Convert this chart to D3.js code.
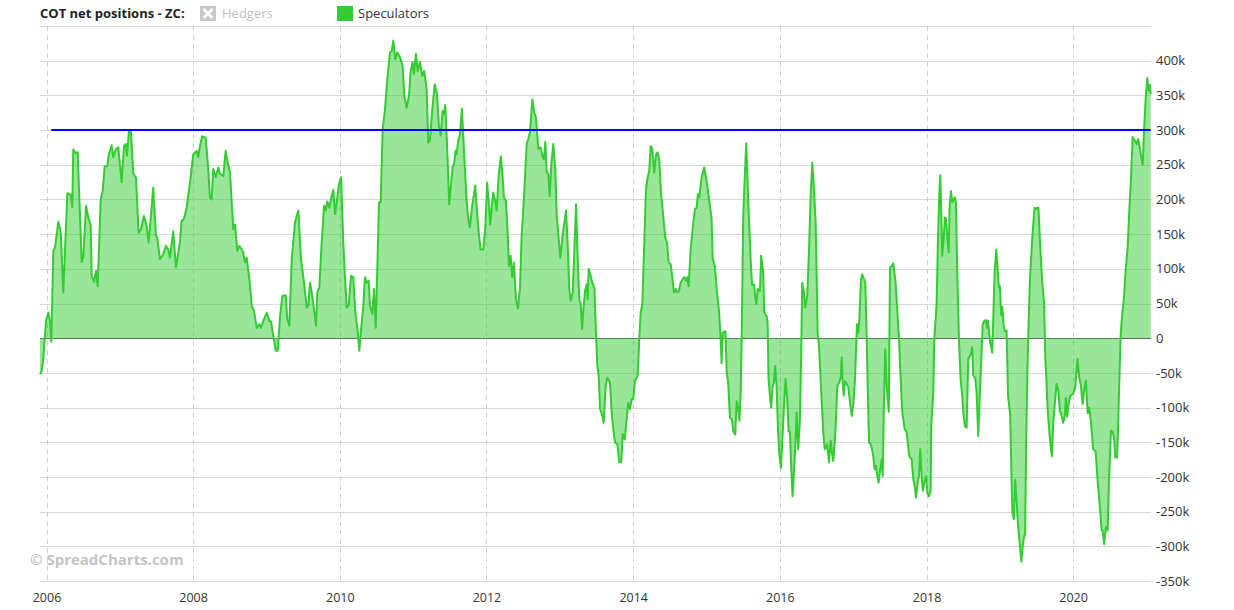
<!DOCTYPE html>
<html><head><meta charset="utf-8">
<script src="https://cdn.jsdelivr.net/npm/d3@7"></script>
<style>
html,body{margin:0;padding:0;background:#fff;}
svg{display:block;font-family:"Open Sans",sans-serif;}
</style></head><body>
<svg id="chart" width="1234" height="610"></svg>
<script>
// decimal-year dates of the weekly COT readings
const dates = [2005.911,2005.932,2005.956,2005.993,2006.025,2006.048,2006.065,2006.093,2006.116,2006.161,2006.194,2006.229,2006.284,2006.330,2006.352,2006.365,2006.398,2006.425,2006.480,2006.502,2006.539,2006.570,2006.603,2006.616,2006.648,2006.675,2006.698,2006.739,2006.766,2006.794,2006.829,2006.848,2006.889,2006.911,2006.948,2006.979,2007.025,2007.057,2007.084,2007.098,2007.125,2007.152,2007.184,2007.220,2007.257,2007.289,2007.329,2007.366,2007.394,2007.421,2007.456,2007.493,2007.511,2007.548,2007.593,2007.629,2007.661,2007.684,2007.729,2007.766,2007.820,2007.843,2007.875,2007.912,2007.957,2008.002,2008.048,2008.070,2008.093,2008.124,2008.171,2008.206,2008.229,2008.253,2008.274,2008.307,2008.343,2008.366,2008.411,2008.443,2008.471,2008.502,2008.547,2008.570,2008.602,2008.629,2008.675,2008.707,2008.730,2008.765,2008.798,2008.829,2008.866,2008.902,2008.925,2008.956,2009.002,2009.038,2009.061,2009.092,2009.125,2009.152,2009.184,2009.215,2009.261,2009.283,2009.311,2009.343,2009.388,2009.433,2009.470,2009.511,2009.548,2009.570,2009.593,2009.624,2009.675,2009.692,2009.720,2009.752,2009.784,2009.807,2009.829,2009.856,2009.889,2009.911,2009.934,2009.957,2009.988,2010.016,2010.047,2010.070,2010.093,2010.121,2010.152,2010.183,2010.211,2010.243,2010.265,2010.288,2010.320,2010.343,2010.366,2010.393,2010.411,2010.442,2010.466,2010.489,2010.511,2010.534,2010.557,2010.584,2010.616,2010.647,2010.684,2010.707,2010.729,2010.756,2010.783,2010.820,2010.857,2010.879,2010.911,2010.943,2010.966,2010.993,2011.011,2011.038,2011.061,2011.093,2011.124,2011.151,2011.184,2011.206,2011.229,2011.263,2011.295,2011.325,2011.352,2011.375,2011.402,2011.420,2011.438,2011.465,2011.492,2011.511,2011.539,2011.556,2011.579,2011.593,2011.615,2011.638,2011.665,2011.697,2011.729,2011.751,2011.774,2011.806,2011.847,2011.870,2011.897,2011.920,2011.956,2011.983,2012.010,2012.038,2012.051,2012.074,2012.092,2012.119,2012.139,2012.166,2012.197,2012.220,2012.238,2012.265,2012.289,2012.306,2012.329,2012.351,2012.374,2012.402,2012.429,2012.456,2012.479,2012.511,2012.548,2012.569,2012.593,2012.624,2012.651,2012.674,2012.706,2012.738,2012.766,2012.783,2012.801,2012.820,2012.842,2012.861,2012.883,2012.910,2012.937,2012.957,2012.984,2013.006,2013.038,2013.083,2013.104,2013.128,2013.147,2013.175,2013.197,2013.220,2013.243,2013.265,2013.284,2013.302,2013.319,2013.342,2013.366,2013.379,2013.393,2013.420,2013.442,2013.472,2013.492,2013.510,2013.529,2013.547,2013.574,2013.597,2013.625,2013.646,2013.683,2013.706,2013.728,2013.751,2013.783,2013.810,2013.837,2013.856,2013.884,2013.911,2013.933,2013.956,2013.979,2014.001,2014.024,2014.061,2014.083,2014.102,2014.124,2014.147,2014.174,2014.197,2014.219,2014.238,2014.260,2014.287,2014.311,2014.334,2014.356,2014.379,2014.410,2014.437,2014.461,2014.484,2014.511,2014.533,2014.556,2014.579,2014.601,2014.624,2014.647,2014.675,2014.696,2014.720,2014.737,2014.756,2014.784,2014.811,2014.842,2014.866,2014.883,2014.901,2014.934,2014.968,2015.002,2015.036,2015.070,2015.084,2015.115,2015.146,2015.172,2015.193,2015.206,2015.220,2015.258,2015.275,2015.296,2015.320,2015.347,2015.365,2015.392,2015.412,2015.433,2015.449,2015.467,2015.483,2015.501,2015.521,2015.542,2015.569,2015.602,2015.622,2015.650,2015.663,2015.680,2015.699,2015.729,2015.746,2015.774,2015.787,2015.820,2015.834,2015.847,2015.865,2015.883,2015.902,2015.920,2015.937,2015.956,2015.974,2015.992,2016.015,2016.038,2016.060,2016.079,2016.101,2016.120,2016.138,2016.155,2016.174,2016.196,2016.215,2016.229,2016.251,2016.274,2016.292,2016.305,2016.329,2016.346,2016.374,2016.397,2016.420,2016.442,2016.465,2016.488,2016.502,2016.515,2016.533,2016.556,2016.574,2016.592,2016.611,2016.628,2016.646,2016.669,2016.693,2016.710,2016.728,2016.751,2016.769,2016.783,2016.810,2016.829,2016.843,2016.856,2016.870,2016.888,2016.911,2016.933,2016.956,2016.979,2017.001,2017.024,2017.038,2017.051,2017.069,2017.083,2017.106,2017.123,2017.147,2017.164,2017.183,2017.197,2017.215,2017.238,2017.256,2017.273,2017.293,2017.310,2017.328,2017.347,2017.365,2017.388,2017.402,2017.415,2017.436,2017.453,2017.470,2017.485,2017.501,2017.531,2017.546,2017.576,2017.601,2017.624,2017.647,2017.669,2017.702,2017.729,2017.764,2017.797,2017.819,2017.838,2017.856,2017.879,2017.897,2017.914,2017.933,2017.951,2017.969,2017.992,2018.010,2018.033,2018.056,2018.064,2018.092,2018.105,2018.124,2018.138,2018.156,2018.173,2018.187,2018.201,2018.214,2018.233,2018.251,2018.265,2018.282,2018.302,2018.315,2018.333,2018.351,2018.370,2018.387,2018.401,2018.419,2018.442,2018.465,2018.487,2018.501,2018.524,2018.547,2018.569,2018.592,2018.610,2018.623,2018.637,2018.664,2018.683,2018.705,2018.728,2018.746,2018.765,2018.787,2018.810,2018.824,2018.841,2018.865,2018.896,2018.910,2018.929,2018.951,2018.970,2018.987,2019.001,2019.019,2019.035,2019.051,2019.069,2019.092,2019.113,2019.141,2019.158,2019.171,2019.192,2019.210,2019.229,2019.246,2019.267,2019.294,2019.312,2019.328,2019.345,2019.360,2019.376,2019.392,2019.413,2019.440,2019.458,2019.473,2019.492,2019.512,2019.527,2019.550,2019.576,2019.604,2019.621,2019.635,2019.651,2019.672,2019.696,2019.710,2019.730,2019.754,2019.774,2019.799,2019.819,2019.842,2019.864,2019.887,2019.901,2019.919,2019.942,2019.962,2020.000,2020.028,2020.048,2020.060,2020.081,2020.105,2020.129,2020.150,2020.174,2020.197,2020.219,2020.242,2020.273,2020.306,2020.333,2020.365,2020.388,2020.401,2020.423,2020.446,2020.470,2020.487,2020.515,2020.538,2020.559,2020.573,2020.600,2020.624,2020.647,2020.665,2020.692,2020.715,2020.742,2020.764,2020.787,2020.810,2020.838,2020.865,2020.887,2020.910,2020.928,2020.947,2020.964,2020.988,2021.009,2021.029,2021.046,2021.056];

// Speculators net position, thousands of contracts
const speculators = [-52,-48,-30,25,37,23,-5,126,131,168,153,66,209,207,189,272,267,268,110,117,191,174,162,90,81,97,75,200,212,248,248,264,278,261,273,275,225,277,280,263,299,297,237,232,152,157,176,162,138,172,217,148,145,114,121,133,128,116,154,102,138,169,172,188,224,265,270,261,277,291,289,244,203,200,244,232,246,237,234,270,253,239,157,164,126,133,126,109,116,85,47,39,15,20,15,25,37,25,24,3,-18,-18,32,61,62,27,18,114,167,184,114,80,44,47,80,61,18,66,73,138,191,184,197,188,205,214,179,196,222,232,138,88,44,47,90,88,37,11,-18,11,47,88,80,83,47,35,71,15,100,196,196,301,330,373,412,414,429,402,412,405,393,349,332,349,385,398,381,410,385,398,378,385,359,282,285,332,366,352,306,292,328,323,336,273,193,215,248,249,270,265,285,292,331,263,200,172,160,191,220,184,150,128,128,157,224,188,164,191,210,198,184,234,262,234,203,198,152,104,119,88,109,56,43,71,148,203,280,287,297,344,325,318,273,275,261,258,283,239,237,205,251,280,244,176,143,116,150,184,140,70,54,66,128,193,114,54,51,13,39,68,78,56,100,90,80,71,6,-40,-54,-102,-110,-122,-69,-57,-64,-107,-131,-150,-153,-179,-179,-138,-146,-117,-93,-102,-88,-88,-62,-54,-1,37,49,124,215,232,241,277,273,239,265,268,256,210,176,145,138,109,107,88,66,71,66,68,80,85,88,83,88,75,128,157,186,188,208,203,232,246,226,200,172,115,103,63,38,-1,-36,8,10,-48,-64,-115,-117,-134,-139,-91,-102,-119,-78,22,176,229,281,200,114,77,77,61,49,71,68,119,95,37,32,23,-59,-83,-100,-69,-64,-40,-69,-126,-165,-187,-141,-93,-59,-88,-134,-136,-184,-228,-189,-146,-107,-160,-117,-21,80,66,44,61,124,205,253,215,167,90,8,-11,-59,-98,-136,-160,-158,-153,-179,-148,-165,-177,-146,-107,-69,-64,-57,-28,-64,-83,-62,-66,-71,-93,-112,-95,-59,-16,20,8,27,85,92,85,80,3,-69,-150,-153,-160,-170,-189,-184,-199,-208,-191,-175,-199,-112,-16,-64,-88,-106,102,105,108,82,40,-1,-59,-107,-131,-136,-170,-175,-203,-213,-230,-208,-199,-160,-199,-220,-208,-199,-223,-228,-220,-126,-78,-1,27,51,143,205,235,181,119,143,174,172,148,124,191,212,196,200,203,196,95,-1,-59,-83,-107,-127,-129,-30,-26,-21,-13,-54,-57,-78,-141,-78,-35,20,25,26,15,25,-4,-21,27,95,128,100,73,75,33,45,18,10,11,-85,-110,-195,-251,-261,-204,-236,-266,-292,-322,-300,-287,-282,-146,-49,20,90,140,167,188,186,188,188,135,85,50,-30,-59,-100,-130,-160,-170,-120,-90,-66,-76,-105,-111,-122,-112,-86,-113,-92,-83,-80,-72,-46,-30,-55,-68,-95,-76,-61,-108,-100,-120,-160,-163,-205,-245,-277,-277,-297,-272,-277,-210,-133,-135,-145,-172,-172,-80,4,31,59,98,131,183,228,290,285,280,287,273,260,250,297,347,375,357,365,352];

// horizontal reference level (thousands) and its span
const refLevel = [300, 300];
const refSpan = [2006.065, 2021.056];

const yTickValues = [-350,-300,-250,-200,-150,-100,-50,0,50,100,150,200,250,300,350,400,450];
const xTickYears = [2006,2008,2010,2012,2014,2016,2018,2020];
const xDomainYears = [2005.911, 2021.060];
const titleText = "COT net positions - ZC:";
const legendNames = ["Hedgers", "Speculators"];
const watermark = "\u00a9 SpreadCharts.com";

function decToDate(v) {
  const yr = Math.floor(v);
  const a = new Date(yr, 0, 1).getTime(), b = new Date(yr + 1, 0, 1).getTime();
  return new Date(a + (v - yr) * (b - a));
}

const svg = d3.select("#chart");
const L = 40, R = 1151, T = 26, B = 581;

const x = d3.scaleTime().domain(xDomainYears.map(decToDate)).range([L, R]);
const y = d3.scaleLinear().domain([-350, 450]).range([B, T]);

const data = dates.map((d, i) => ({ date: decToDate(d), v: speculators[i] }));

// horizontal grid + right labels
const yAxis = d3.axisRight(y)
  .tickValues(yTickValues)
  .tickSize(-(R - L))
  .tickPadding(5)
  .tickFormat(v => v === 450 ? "" : (v === 0 ? "0" : v + "k"));
const gy = svg.append("g").attr("transform", `translate(${R},0)`).call(yAxis);
gy.select(".domain").remove();
gy.selectAll(".tick line").attr("stroke", "#d8d8d8").attr("stroke-width", 1)
  .attr("shape-rendering", "crispEdges");
gy.selectAll(".tick text").attr("fill", "#333").attr("font-size", 13)
  .attr("font-family", "'Open Sans', sans-serif");

// vertical dashed grid
svg.append("g").selectAll("line").data(xTickYears).join("line")
  .attr("x1", d => Math.round(x(decToDate(d))) + 0.5)
  .attr("x2", d => Math.round(x(decToDate(d))) + 0.5)
  .attr("y1", T).attr("y2", B + 3)
  .attr("stroke", "#cfcfcf").attr("stroke-dasharray", "5,4").attr("stroke-width", 1);

// zero line
svg.append("line").attr("x1", L).attr("x2", R)
  .attr("y1", Math.round(y(0)) + 0.5).attr("y2", Math.round(y(0)) + 0.5)
  .attr("stroke", "#666").attr("stroke-width", 1);

// x axis labels
const xAxis = d3.axisBottom(x)
  .tickValues(xTickYears.map(decToDate))
  .tickFormat(d3.timeFormat("%Y"))
  .tickSize(0).tickPadding(12);
const gx = svg.append("g").attr("transform", `translate(0,${B})`).call(xAxis);
gx.select(".domain").remove();
gx.selectAll(".tick text").attr("fill", "#333").attr("font-size", 12.5)
  .attr("font-family", "'Open Sans', sans-serif");

// area + line
const area = d3.area().x(d => x(d.date)).y0(y(0)).y1(d => y(d.v));
const line = d3.line().x(d => x(d.date)).y(d => y(d.v));
svg.append("path").datum(data).attr("d", area)
  .attr("fill", "#33cc33").attr("fill-opacity", 0.5);
svg.append("path").datum(data).attr("d", line)
  .attr("fill", "none").attr("stroke", "#33cc33").attr("stroke-width", 2)
  .attr("stroke-linejoin", "round");

// reference line
const refData = refSpan.map((d, i) => ({ date: decToDate(d), v: refLevel[i] }));
svg.append("path").datum(refData).attr("d", line)
  .attr("fill", "none").attr("stroke", "#0000ff").attr("stroke-width", 2);

// watermark
svg.append("text").attr("x", 30).attr("y", 565).text(watermark)
  .attr("font-size", 15).attr("font-weight", "bold").attr("fill", "#c4c4c4");

// title + legend
svg.append("text").attr("x", 40).attr("y", 18).text(titleText)
  .attr("font-size", 13).attr("font-weight", "bold").attr("fill", "#222");

const hg = svg.append("g").attr("transform", "translate(200,6)");
hg.append("rect").attr("width", 16).attr("height", 15).attr("fill", "#c8c8c8");
hg.append("path").attr("d", "M3.5,3 L12.5,12 M12.5,3 L3.5,12")
  .attr("stroke", "#fff").attr("stroke-width", 2.6);
svg.append("text").attr("x", 222).attr("y", 18).text(legendNames[0])
  .attr("font-size", 13).attr("fill", "#c0c0c0");

svg.append("rect").attr("x", 337).attr("y", 6).attr("width", 16).attr("height", 15)
  .attr("fill", "#33cc33");
svg.append("text").attr("x", 358).attr("y", 18).text(legendNames[1])
  .attr("font-size", 13).attr("fill", "#333");
</script>
</body></html>
